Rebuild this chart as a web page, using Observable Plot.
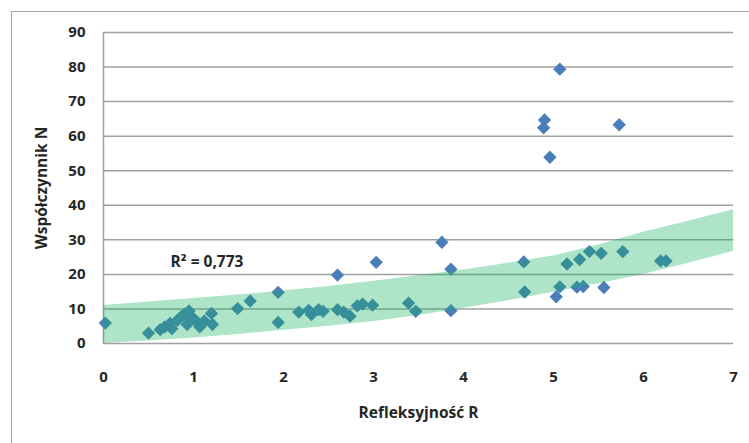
<!DOCTYPE html>
<html><head><meta charset="utf-8">
<script src="https://cdn.jsdelivr.net/npm/d3@7"></script>
<script src="https://cdn.jsdelivr.net/npm/@observablehq/plot@0.6"></script>
<style>
body{margin:0;background:#fff;overflow:hidden}
#chart{width:749px;height:443px}
</style></head><body><div id="chart"></div>
<script>
// Reflectivity R (x) and coefficient N (y) for each measured point
const reflect = [0.02,0.50,0.63,0.68,0.74,0.76,0.82,0.86,0.90,0.95,0.93,1.00,1.03,1.07,1.12,1.20,1.21,
  1.49,1.63,1.94,1.94,2.17,2.28,2.31,2.39,2.44,2.60,2.60,2.67,2.74,2.82,2.88,2.99,3.03,3.39,3.47,
  3.76,3.86,3.86,4.67,4.68,4.90,4.89,4.96,5.07,5.03,5.07,5.15,5.29,5.26,5.33,5.40,5.53,5.56,5.73,
  5.77,6.19,6.25];
const coeff = [5.9,3.0,4.0,4.8,5.8,4.3,6.7,7.7,8.5,9.4,5.5,7.2,6.5,4.8,6.5,8.7,5.5,
  10.1,12.3,14.8,6.1,9.1,9.6,8.4,9.8,9.3,19.8,9.8,9.1,7.9,10.9,11.4,11.1,23.5,11.7,9.3,
  29.3,21.5,9.5,23.6,14.9,64.7,62.4,53.9,79.4,13.5,16.4,23.0,24.3,16.3,16.5,26.6,26.1,16.2,63.3,
  26.6,23.9,23.9];
// Shaded band
const bandR    = [0,0.5,1,1.5,2,2.5,3,3.5,4,4.5,5,5.5,6,6.5,7];
const bandLow  = [0,0.7,1.6,2.6,3.8,5.0,6.4,8.1,10.2,12.4,14.8,17.3,20.0,23.2,26.7];
const bandHigh = [11.0,12.0,13.0,14.0,15.2,16.5,18.0,19.6,21.3,23.2,25.3,28.5,32.2,35.4,38.7];
const xTicks = [0,1,2,3,4,5,6,7];
const yTicks = [0,10,20,30,40,50,60,70,80,90];
const xTitle = "Refleksyjność R";
const yTitle = "Współczynnik N";
const r2Label = "R² = 0,773";

const points = reflect.map((r, i) => ({r, n: coeff[i]}));
const band = bandR.map((r, i) => ({r, lo: bandLow[i], hi: bandHigh[i]}));

const ink = "#262626";
const plot = Plot.plot({
  width: 749, height: 443,
  marginLeft: 103, marginRight: 16, marginTop: 32, marginBottom: 100,
  style: {fontFamily: "'Open Sans', Lato, sans-serif", fontSize: "15px", fontWeight: "bold", background: "#fff", color: ink, overflow: "visible"},
  x: {domain: [0, 7]},
  y: {domain: [0, 90]},
  marks: [
    Plot.gridY(yTicks, {stroke: "#a0a0a0", strokeOpacity: 1, strokeWidth: 1.5}),
    Plot.ruleX([0], {stroke: "#a0a0a0", strokeWidth: 1.5}),
    Plot.dot(points, {x: "r", y: "n", symbol: "diamond2", r: 6, fill: "#4a7ebb", stroke: "none"}),
    Plot.areaY(band, {x: "r", y1: "lo", y2: "hi", fill: "#12af5c", fillOpacity: 0.34}),
    Plot.axisX(xTicks, {tickSize: 0, tickPadding: 28, label: null, fill: ink, fontSize: 15}),
    Plot.axisY(yTicks, {tickSize: 0, tickPadding: 18, label: null, fill: ink, fontSize: 15}),
    Plot.text([xTitle], {frameAnchor: "bottom", dy: 70, textAnchor: "middle", lineAnchor: "middle", fill: ink, fontSize: 15.5}),
    Plot.text([yTitle], {frameAnchor: "left", dx: -61, rotate: -90, textAnchor: "middle", lineAnchor: "middle", fill: ink, fontSize: 15.5}),
    Plot.text([r2Label], {frameAnchor: "top-left", dx: 67, dy: 230, textAnchor: "start", lineAnchor: "middle", fill: ink, fontSize: 15.5})
  ]
});
d3.select(plot).insert("rect", ":first-child")
  .attr("x", 11.5).attr("y", 11.5).attr("width", 800).attr("height", 500)
  .attr("fill", "none").attr("stroke", "#a6a6a6");
document.getElementById("chart").appendChild(plot);
</script></body></html>
